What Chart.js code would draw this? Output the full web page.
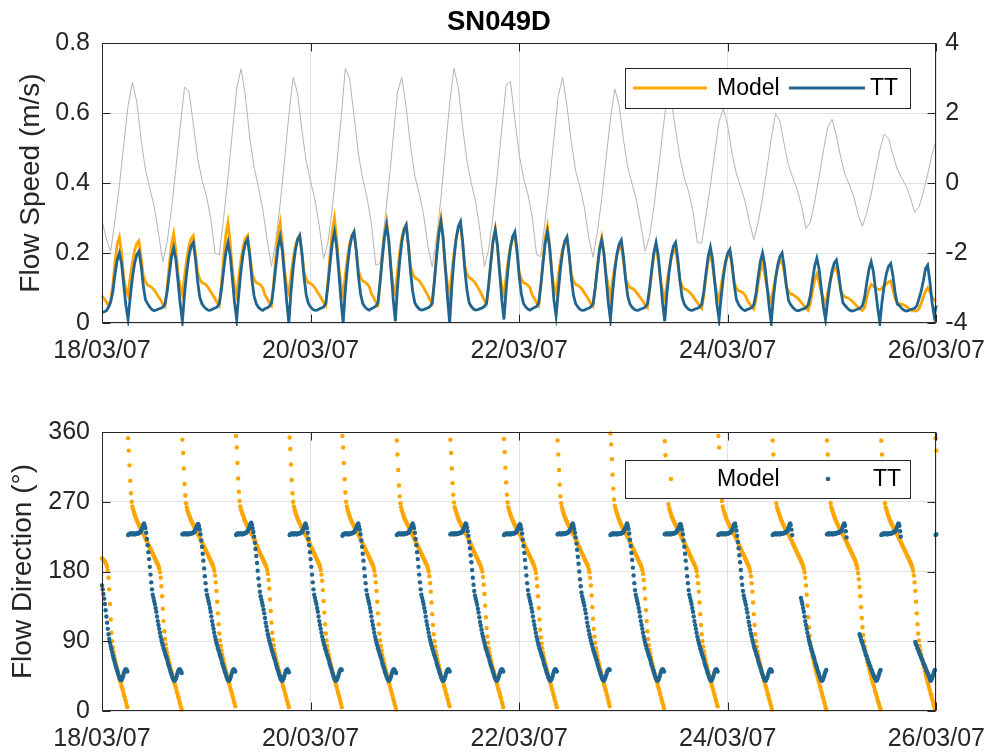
<!DOCTYPE html>
<html>
<head>
<meta charset="utf-8">
<title>SN049D</title>
<script src="https://cdn.jsdelivr.net/npm/chart.js@4.4.1/dist/chart.umd.min.js"></script>
<style>
  html, body { margin: 0; padding: 0; background: #ffffff; }
  #wrap { position: relative; width: 998px; height: 754px; }
  canvas { position: absolute; left: 0; }
  #speedCanvas { top: 0; }
  #dirCanvas { top: 375px; }
</style>
</head>
<body>
<div id="wrap">
  <canvas id="speedCanvas" width="998" height="375"></canvas>
  <canvas id="dirCanvas" width="998" height="379"></canvas>
</div>
<script>
// ---- time axis (hours after 18/03/07 00:00) ----
const DATE_LABELS = ['18/03/07', '20/03/07', '22/03/07', '24/03/07', '26/03/07'];
const DATE_TICK_STEP_H = 48;
const SPAN_H = 192;
const SPEED_STEP_H = 0.5;      // flow speed sampled every 30 min
const DIR_STEP_H = 1 / 6;      // flow direction sampled every 10 min
const ELEV_STEP_H = 1;         // water level sampled hourly

// ---- flow speed (m/s), TT measurements ----
const speedTT = [
  0.03,0.032,0.035,0.045,0.06,0.09,0.14,0.18,0.20,0.17,0.11,0.05,
  0.01,0.074,0.129,0.17,0.195,0.205,0.164,0.107,0.066,0.055,0.045,0.038,0.035,0.037,0.04,0.042,0.045,0.055,0.09,0.142,0.189,0.215,0.181,0.118,0.054,
  0.005,0.083,0.145,0.191,0.219,0.23,0.184,0.12,0.074,0.055,0.046,0.04,0.036,0.037,0.04,0.043,0.046,0.056,0.097,0.152,0.202,0.23,0.193,0.127,0.058,
  0.01,0.086,0.151,0.199,0.228,0.24,0.192,0.125,0.077,0.055,0.045,0.039,0.036,0.041,0.043,0.047,0.057,0.103,0.162,0.216,0.246,0.207,0.135,0.062,
  0,0.09,0.158,0.208,0.238,0.25,0.2,0.13,0.08,0.056,0.046,0.039,0.036,0.037,0.04,0.043,0.046,0.056,0.109,0.172,0.229,0.26,0.218,0.143,0.065,
  0,0.094,0.164,0.216,0.247,0.26,0.208,0.135,0.083,0.056,0.046,0.04,0.037,0.041,0.044,0.047,0.058,0.118,0.185,0.246,0.28,0.235,0.154,0.07,
  0.005,0.101,0.176,0.232,0.266,0.28,0.224,0.146,0.09,0.057,0.047,0.04,0.037,0.038,0.041,0.043,0.047,0.058,0.122,0.191,0.255,0.29,0.244,0.16,0.073,
  0,0.104,0.183,0.241,0.276,0.29,0.232,0.151,0.093,0.057,0.047,0.04,0.037,0.038,0.041,0.043,0.047,0.057,0.112,0.176,0.234,0.266,0.223,0.146,0.067,
  0.01,0.094,0.164,0.216,0.247,0.26,0.208,0.135,0.083,0.056,0.046,0.04,0.037,0.041,0.044,0.047,0.057,0.109,0.172,0.229,0.26,0.218,0.143,0.065,
  0.02,0.089,0.155,0.204,0.234,0.246,0.197,0.128,0.079,0.055,0.046,0.039,0.036,0.037,0.04,0.042,0.046,0.055,0.1,0.156,0.209,0.237,0.199,0.13,0.059,
  0.01,0.085,0.149,0.197,0.225,0.237,0.19,0.123,0.076,0.054,0.045,0.039,0.036,0.037,0.04,0.042,0.045,0.054,0.097,0.152,0.202,0.23,0.193,0.127,0.058,
  0.005,0.083,0.145,0.191,0.219,0.23,0.184,0.12,0.074,0.054,0.045,0.039,0.036,0.037,0.04,0.042,0.045,0.054,0.091,0.143,0.191,0.217,0.182,0.119,0.054,
  0.01,0.076,0.132,0.174,0.2,0.21,0.168,0.109,0.067,0.053,0.044,0.038,0.035,0.039,0.041,0.044,0.053,0.084,0.132,0.176,0.2,0.168,0.11,0.05,
  0,0.072,0.126,0.166,0.19,0.2,0.16,0.104,0.064,0.052,0.044,0.038,0.035,0.036,0.039,0.041,0.044,0.052,0.078,0.122,0.163,0.185,0.155,0.102,0.046,
  0.01,0.065,0.113,0.149,0.171,0.18,0.144,0.094,0.058,0.05,0.043,0.037,0.034,0.035,0.038,0.04,0.043,0.05,0.074,0.116,0.154,0.175,0.147,0.096,0.044,
  0,0.061,0.107,0.141,0.162,0.17,0.136,0.088,0.054,0.05,0.042,0.037,0.034,0.035,0.038,0.04,0.042,0.049,0.069,0.09,0.12,0.155,0.165,0.12,0.06,
  0.02,0.05
];

// ---- flow speed (m/s), model ----
const speedModel = [
  0.077,0.07,0.06,0.05,0.065,0.11,0.175,0.225,0.245,0.2,0.13,0.095,
  0.08,0.13,0.173,0.207,0.227,0.235,0.188,0.136,0.118,0.108,0.106,0.101,0.094,0.085,0.075,0.066,0.054,0.047,0.102,0.168,0.224,0.255,0.206,0.141,0.101,
  0.08,0.134,0.182,0.219,0.242,0.25,0.2,0.145,0.125,0.115,0.113,0.108,0.1,0.09,0.08,0.07,0.058,0.05,0.114,0.189,0.252,0.286,0.228,0.152,0.105,
  0.08,0.134,0.182,0.219,0.242,0.25,0.2,0.145,0.125,0.115,0.113,0.108,0.1,0.08,0.07,0.058,0.05,0.114,0.189,0.252,0.286,0.228,0.152,0.105,
  0.085,0.138,0.184,0.22,0.242,0.25,0.2,0.145,0.125,0.115,0.113,0.108,0.1,0.09,0.08,0.07,0.058,0.05,0.12,0.198,0.264,0.3,0.24,0.16,0.111,
  0.08,0.138,0.188,0.228,0.251,0.26,0.208,0.151,0.13,0.12,0.117,0.112,0.104,0.083,0.073,0.06,0.052,0.116,0.191,0.255,0.29,0.231,0.154,0.105,
  0.085,0.147,0.202,0.245,0.27,0.28,0.224,0.162,0.14,0.129,0.126,0.12,0.112,0.101,0.09,0.078,0.064,0.056,0.12,0.198,0.264,0.3,0.24,0.16,0.111,
  0.08,0.144,0.2,0.244,0.27,0.28,0.224,0.162,0.14,0.129,0.126,0.12,0.112,0.101,0.09,0.078,0.064,0.056,0.108,0.178,0.238,0.27,0.217,0.147,0.103,
  0.08,0.134,0.182,0.219,0.242,0.25,0.2,0.145,0.125,0.115,0.113,0.108,0.1,0.08,0.07,0.058,0.05,0.11,0.182,0.242,0.275,0.22,0.148,0.103,
  0.085,0.135,0.178,0.212,0.232,0.24,0.192,0.139,0.12,0.11,0.108,0.103,0.096,0.086,0.077,0.067,0.055,0.048,0.098,0.162,0.216,0.245,0.2,0.141,0.104,
  0.075,0.121,0.162,0.194,0.213,0.22,0.176,0.128,0.11,0.101,0.099,0.095,0.088,0.079,0.07,0.062,0.051,0.044,0.088,0.145,0.194,0.22,0.179,0.126,0.092,
  0.07,0.115,0.154,0.185,0.203,0.21,0.168,0.122,0.105,0.097,0.095,0.09,0.084,0.076,0.067,0.059,0.048,0.042,0.08,0.132,0.176,0.2,0.164,0.116,0.086,
  0.065,0.108,0.146,0.176,0.193,0.2,0.16,0.116,0.1,0.092,0.09,0.086,0.08,0.064,0.056,0.046,0.04,0.068,0.112,0.15,0.17,0.141,0.102,0.078,
  0.06,0.098,0.132,0.158,0.174,0.18,0.144,0.104,0.09,0.083,0.081,0.077,0.072,0.065,0.058,0.05,0.041,0.036,0.056,0.092,0.123,0.14,0.118,0.088,0.07,
  0.05,0.085,0.116,0.14,0.155,0.16,0.128,0.093,0.08,0.074,0.072,0.069,0.064,0.058,0.051,0.045,0.04,0.036,0.044,0.073,0.097,0.11,0.105,0.1,0.097,
  0.095,0.1,0.106,0.112,0.117,0.12,0.096,0.07,0.06,0.055,0.054,0.052,0.048,0.043,0.038,0.036,0.034,0.035,0.04,0.055,0.075,0.09,0.1,0.09,0.075,
  0.065,0.062
];

// ---- water level (m), right-hand axis ----
const waterLevel = [
  -1.06,-1.6,-1.95,-1.05,-0.07,1.09,2.21,2.88,2.32,1.24,
  0.37,-0.15,-0.66,-1.44,-2.25,-1.68,-0.75,0.41,1.61,2.74,
  2.62,1.70,0.72,0.09,-0.35,-0.99,-2.0,-2.05,-0.98,0.16,
  1.45,2.70,3.26,2.49,1.30,0.45,-0.12,-0.75,-1.63,-2.38,
  -1.64,-0.61,0.64,1.94,3.02,2.56,1.51,0.62,0.05,-0.47,
  -1.23,-2.17,-1.70,-0.71,0.50,1.82,3.28,2.97,1.93,0.84,
  0.12,-0.42,-1.17,-2.35,-2.3,-1.17,-0.03,1.28,2.6,3.02,
  2.16,1.06,0.19,-0.30,-0.90,-1.80,-2.4,-1.54,-0.43,0.94,
  2.26,3.28,2.72,1.58,0.62,-0.01,-0.55,-1.38,-2.38,-1.89,
  -0.90,0.27,1.55,2.8,2.9,1.82,0.81,0.15,-0.31,-0.97,
  -2.05,-2.1,-1.05,0.03,1.27,2.50,3.02,2.20,1.17,0.34,
  -0.12,-0.69,-1.55,-2.12,-1.39,-0.45,0.71,1.82,2.69,2.22,
  1.24,0.44,-0.03,-0.50,-1.20,-1.95,-1.53,-0.69,0.34,1.42,
  2.45,2.38,1.52,0.71,0.15,-0.25,-0.81,-1.7,-1.72,-0.91,
  -0.08,0.86,1.76,2.13,1.62,0.83,0.26,-0.12,-0.53,-1.12,
  -1.62,-1.12,-0.43,0.40,1.27,1.98,1.77,1.10,0.50,0.13,
  -0.20,-0.67,-1.3,-1.12,-0.54,0.16,0.92,1.59,1.82,1.35,
  0.73,0.23,-0.05,-0.39,-0.90,-1.24,-0.84,-0.32,0.33,0.95,
  1.40,1.27,0.81,0.40,0.15,-0.08,-0.40,-0.84,-0.69,-0.27,
  0.25,0.82,1.23
];

// ---- flow direction (degrees), model; one row per tidal cycle ----
const dirModel = [
  197,196,195,194,193,191,189,186,181,172,157,138,118,101,90,82,76,71,66,62,58,54,50,46,43,39,36,32,29,26,22,19,15,12,8,5,
  352,336,317,297,281,270,264,260,257,254,251,248,246,244,242,240,238,236,234,232,231,229,227,225,223,221,219,217,215,213,211,209,207,205,203,201,199,197,195,193,191,189,187,184,179,172,161,148,132,116,103,93,86,80,75,70,66,62,58,54,50,47,43,40,36,33,30,26,23,19,16,12,9,5,2,
  350,333,313,293,278,268,263,259,256,253,251,248,246,244,242,240,238,236,234,232,230,229,227,226,224,222,220,218,216,214,212,210,208,206,204,202,200,198,196,194,192,190,188,185,181,175,166,155,141,126,112,100,91,84,78,73,68,64,60,56,52,48,44,41,37,34,30,27,24,20,17,13,10,6,
  355,340,320,300,283,271,264,260,257,254,252,249,246,244,242,240,238,236,234,233,231,229,228,226,224,222,220,218,215,213,210,208,206,204,202,200,198,196,194,192,190,188,186,182,177,169,158,144,129,114,101,92,85,79,74,69,65,61,57,53,50,46,43,39,36,32,29,26,22,19,15,12,8,5,
  353,338,318,298,281,270,264,260,257,254,251,248,246,244,242,240,238,236,234,232,231,229,228,226,224,222,220,218,216,213,211,209,207,205,203,201,199,197,195,193,191,189,186,182,176,168,156,142,127,112,100,91,84,78,73,68,64,60,56,52,48,45,41,38,34,31,27,24,20,17,13,9,5,
  355,340,320,299,282,270,264,260,257,254,251,248,246,244,242,240,238,236,234,232,231,229,228,226,224,222,220,218,216,214,212,210,208,206,204,202,200,198,196,194,192,190,188,185,181,175,166,155,141,126,112,100,91,84,78,73,68,64,60,56,52,48,44,41,37,34,30,27,23,20,16,13,9,6,2,
  349,331,311,291,277,268,263,259,256,253,250,248,246,244,242,240,238,236,234,232,230,229,227,225,223,221,219,217,215,213,211,209,207,205,203,201,199,197,195,193,191,189,187,184,180,174,165,154,140,125,111,99,90,83,77,72,67,63,59,55,51,47,44,40,37,33,30,27,23,20,16,13,9,6,
  350,333,313,294,279,269,263,260,257,254,251,248,246,244,242,240,238,236,234,232,231,229,228,226,224,222,220,218,216,213,211,209,207,205,203,201,199,197,195,193,191,189,187,184,180,173,163,151,136,121,107,96,88,81,76,71,66,62,58,54,51,47,43,40,36,33,29,26,23,19,16,12,9,5,
  351,334,314,295,279,269,263,259,256,253,251,248,246,244,242,240,238,236,234,232,231,229,228,226,224,222,220,218,216,213,211,209,207,205,203,201,199,197,195,193,191,189,186,183,178,171,161,148,133,118,105,95,87,81,75,70,66,62,58,54,50,47,43,40,36,33,29,26,22,19,15,12,8,5,
  349,331,311,292,277,268,263,259,256,253,251,248,246,244,242,240,238,236,234,232,231,229,228,226,224,222,220,218,216,213,211,209,207,205,203,201,199,197,195,193,191,189,187,183,179,172,162,149,134,119,106,96,88,81,76,71,66,62,58,54,50,46,43,39,35,32,28,25,21,18,14,10,6,
  358,344,325,305,287,273,265,261,258,255,252,249,247,244,242,240,238,236,234,233,231,229,228,226,224,222,220,218,216,214,212,210,208,206,204,202,200,198,196,194,192,190,188,185,182,177,169,158,145,130,116,103,93,85,79,74,69,65,61,57,53,49,45,42,38,35,31,28,24,21,17,14,10,7,3,
  348,330,310,290,276,267,262,259,256,253,250,248,246,244,242,240,238,236,234,232,230,229,227,225,223,221,219,217,215,213,211,209,207,205,203,201,199,197,195,193,191,189,187,184,180,174,165,154,140,125,111,99,90,83,77,72,67,63,59,55,51,47,44,40,37,33,30,27,23,20,16,13,9,6,
  355,340,320,300,283,271,264,260,257,254,251,248,246,244,242,240,238,236,234,232,231,229,228,226,224,222,220,218,216,213,211,209,207,205,203,201,199,197,195,193,191,189,187,184,180,174,165,154,140,125,111,99,90,83,77,72,67,63,59,55,51,47,44,40,37,33,30,27,23,20,16,13,9,6,2,
  349,331,311,292,277,268,263,260,257,254,251,248,246,244,242,240,238,236,234,232,231,229,228,226,224,222,220,218,216,214,212,210,208,206,204,202,200,198,196,194,192,190,187,184,179,172,162,150,136,121,108,97,89,82,76,71,67,63,59,55,51,47,44,40,37,33,30,26,23,19,16,12,9,5,2,
  349,331,311,292,277,268,263,260,257,254,251,249,246,244,242,240,238,236,234,232,231,229,228,226,224,222,220,218,216,214,212,210,208,206,204,202,200,198,196,194,191,188,184,178,170,160,148,134,120,108,98,90,83,77,72,67,63,59,55,51,48,44,41,37,34,31,27,24,21,18,14,11,8,5,2,
  349,331,311,292,277,268,263,260,257,254,251,248,246,244,242,240,238,236,234,232,231,229,228,226,224,222,220,218,216,214,212,210,208,206,204,202,200,198,196,194,192,190,188,185,181,175,166,155,141,126,112,100,91,84,78,73,68,64,60,56,52,48,44,41,37,34,30,27,23,20,16,13,9,6,2,
  352,336
];

// ---- flow direction (degrees), TT measurements; null = no valid reading ----
const dirTT = [
  162,157,151,145,138,130,122,114,106,99,93,88,84,80,76,72,68,65,61,58,55,52,49,46,43,41,40,40,42,45,48,51,53,54,53,51,
  227,228,228,229,229,228,228,229,229,228,228,229,229,229,229,230,230,231,233,235,237,240,242,239,236,230,222,214,205,196,186,176,166,157,150,146,142,138,133,128,122,116,111,106,101,96,92,88,85,81,78,75,72,69,66,62,59,56,53,50,47,44,42,40,39,40,42,45,48,51,53,54,53,51,49,
  228,228,229,229,228,228,229,229,228,228,229,229,229,229,230,230,231,232,234,236,238,241,241,238,234,228,220,212,203,194,184,174,165,156,150,146,142,138,133,128,122,116,111,106,101,96,92,88,85,81,78,75,72,69,66,62,59,56,53,50,47,44,42,40,39,40,42,45,48,51,53,54,53,51,
  227,228,229,229,228,228,229,229,228,228,229,229,229,230,230,231,232,234,236,239,241,243,240,236,231,225,217,209,200,191,181,171,162,154,148,144,140,136,131,126,120,114,109,104,99,95,91,87,84,80,77,74,71,68,65,61,58,55,52,49,46,43,41,40,39,41,43,46,49,52,53,54,52,50,
  227,228,228,229,229,228,228,229,229,228,228,229,229,229,229,230,230,231,233,235,237,240,242,239,236,230,222,214,205,196,186,176,166,157,150,146,142,138,133,128,122,116,111,106,101,96,92,88,85,81,78,75,72,69,66,62,59,56,53,50,47,44,42,40,39,40,42,45,48,51,53,54,53,
  226,228,228,229,229,228,229,229,228,228,229,229,229,229,230,230,231,232,234,236,238,241,242,238,234,228,220,212,203,194,184,174,165,156,150,146,142,138,133,128,122,116,111,106,101,96,92,88,85,81,78,75,72,69,66,62,59,56,53,50,47,44,42,40,39,40,42,45,48,51,53,54,53,51,49,
  227,228,228,229,229,228,228,229,229,228,228,229,229,229,229,230,230,231,233,235,237,240,242,239,236,230,222,214,205,196,186,176,166,157,150,146,142,138,133,128,122,116,111,106,101,96,92,88,85,81,78,75,72,69,66,62,59,56,53,50,47,44,42,40,39,40,42,45,48,51,53,54,53,51,
  228,228,229,229,228,228,229,229,228,229,229,229,229,230,230,230,231,232,234,237,239,242,241,237,232,226,218,210,201,192,182,172,163,155,149,145,141,137,132,127,121,115,110,105,100,96,92,88,84,81,78,75,72,69,65,62,59,56,53,50,47,44,42,40,39,40,42,45,48,51,53,54,53,51,
  227,228,228,229,229,228,228,229,229,228,228,229,229,229,229,230,230,231,233,235,237,239,241,239,235,229,221,213,204,195,185,175,165,156,150,146,142,138,133,128,122,116,111,106,101,96,92,88,85,81,78,75,72,69,66,62,59,56,53,50,47,44,42,40,39,40,42,45,48,51,53,54,53,51,
  228,228,229,229,228,228,229,229,228,229,229,229,229,230,230,231,232,233,235,237,240,242,239,235,230,224,216,208,199,190,180,170,161,153,148,144,140,136,131,126,120,114,109,104,99,95,91,87,84,80,77,74,71,68,65,61,58,55,52,49,46,43,41,40,39,41,43,46,49,52,53,54,53,
  227,228,228,229,229,228,228,229,229,228,228,229,229,229,229,229,230,230,231,233,235,237,240,242,239,235,229,221,213,204,195,185,175,165,156,150,146,142,138,133,128,122,116,111,106,101,96,92,88,85,81,78,75,72,69,66,62,59,56,53,50,47,44,42,40,39,40,42,45,48,51,53,54,53,51,
  228,228,229,229,228,228,229,229,228,228,229,229,229,229,230,230,231,232,234,236,238,241,241,238,234,228,220,212,203,194,184,174,165,156,150,146,142,138,133,128,122,116,111,106,101,96,92,88,85,81,78,75,72,69,66,62,59,56,53,50,47,44,42,40,39,40,42,45,48,51,53,54,53,51,
  227,228,228,229,229,228,228,229,229,228,228,229,229,229,229,230,230,231,232,234,236,239,241,242,238,233,226,218,210,201,192,182,172,163,155,149,145,141,137,132,127,121,115,110,105,100,96,92,88,84,81,78,75,72,69,65,62,59,56,53,50,47,44,42,40,39,40,42,45,48,51,53,54,53,51,
  227,228,228,229,229,228,228,229,229,228,228,229,229,229,229,229,230,230,231,231,232,234,237,240,242,240,234,227,null,null,null,null,null,null,null,null,null,null,null,146,142,138,133,128,122,116,111,106,101,96,92,88,85,81,78,75,72,69,66,62,59,56,53,50,47,44,42,40,39,40,42,45,48,51,53,
  228,228,229,229,228,228,229,229,228,228,229,229,229,229,230,230,230,231,231,232,233,235,238,241,242,239,232,224,null,null,null,null,null,null,null,null,null,null,null,null,null,null,null,null,null,99,96,93,90,87,84,81,78,75,72,70,67,64,62,59,57,54,52,49,47,45,43,41,39,40,42,45,48,51,53,
  227,228,228,229,229,228,229,229,228,228,229,229,229,229,229,230,230,231,231,232,233,235,238,241,242,239,232,225,null,null,null,null,null,null,null,null,null,null,null,null,null,null,null,null,null,null,null,89,86,84,81,79,76,74,72,69,67,65,62,60,58,56,53,51,49,47,45,42,39,40,42,45,48,51,53,
  227,228
];

// ---- styling ----
const FONT = "'Liberation Sans', Arial, Helvetica, sans-serif";
const INK = '#262626';
const GRID = '#e2e2e2';
const ORANGE = '#ffa500';
const TEAL = '#1f6590';
const LEVEL_GRAY = '#b4b4b4';
const TICK_LEN = 8;

function toPoints(values, stepH) {
  return values.map((v, i) => ({ x: i * stepH, y: v }));
}

function timeAxis(height) {
  return {
    type: 'linear', min: 0, max: SPAN_H,
    grid: { color: GRID, lineWidth: 1, drawTicks: false },
    border: { display: false },
    ticks: {
      stepSize: DATE_TICK_STEP_H, autoSkip: false, maxRotation: 0, padding: 13,
      color: INK, font: { family: FONT, size: 25 },
      callback: (v) => DATE_LABELS[Math.round(v / DATE_TICK_STEP_H)]
    },
    afterFit: (s) => { s.height = height; }
  };
}

// Axes box with inward tick marks on every side
const axesFrame = {
  id: 'axesFrame',
  afterDatasetsDraw(chart) {
    const { ctx, chartArea: a, scales } = chart;
    const L = Math.round(a.left) + 0.5, R = Math.round(a.right) - 0.5;
    const T = Math.round(a.top) + 0.5, B = Math.round(a.bottom) - 0.5;
    ctx.save();
    ctx.strokeStyle = INK;
    ctx.lineWidth = 1;
    ctx.beginPath();
    scales.x.ticks.forEach(t => {
      const px = Math.round(scales.x.getPixelForValue(t.value)) + 0.5;
      ctx.moveTo(px, B); ctx.lineTo(px, B - TICK_LEN);
      ctx.moveTo(px, T); ctx.lineTo(px, T + TICK_LEN);
    });
    scales.y.ticks.forEach(t => {
      const py = Math.round(scales.y.getPixelForValue(t.value)) + 0.5;
      ctx.moveTo(L, py); ctx.lineTo(L + TICK_LEN, py);
    });
    const rightScale = scales.y2 || scales.y;
    rightScale.ticks.forEach(t => {
      const py = Math.round(rightScale.getPixelForValue(t.value)) + 0.5;
      ctx.moveTo(R, py); ctx.lineTo(R - TICK_LEN, py);
    });
    ctx.stroke();
    ctx.strokeRect(L, T, R - L, B - T);
    ctx.restore();
  }
};

// Legend drawn inside the plot area, top-right corner
function insetLegend(opts) {
  return {
    id: 'insetLegend',
    afterDraw(chart) {
      const { ctx, chartArea: a } = chart;
      const right = Math.round(a.right - opts.insetRight);
      const top = Math.round(a.top + opts.insetTop);
      const left = right - opts.width;
      const midY = top + opts.height / 2;
      ctx.save();
      ctx.fillStyle = '#ffffff';
      ctx.fillRect(left, top, opts.width, opts.height);
      ctx.strokeStyle = INK;
      ctx.lineWidth = 1;
      ctx.strokeRect(left + 0.5, top + 0.5, opts.width, opts.height);
      ctx.font = '23px ' + FONT;
      ctx.textBaseline = 'middle';
      ctx.textAlign = 'left';
      opts.items.forEach(it => {
        if (opts.kind === 'line') {
          ctx.strokeStyle = it.color;
          ctx.lineWidth = 2.8;
          ctx.beginPath();
          ctx.moveTo(left + it.from, midY);
          ctx.lineTo(left + it.to, midY);
          ctx.stroke();
        } else {
          ctx.fillStyle = it.color;
          ctx.beginPath();
          ctx.arc(left + it.at, midY, 2.3, 0, Math.PI * 2);
          ctx.fill();
        }
        ctx.fillStyle = '#000000';
        ctx.fillText(it.label, left + it.textX, midY + 1);
      });
      ctx.restore();
    }
  };
}

// ---- upper panel: flow speed + water level ----
new Chart(document.getElementById('speedCanvas'), {
  type: 'line',
  data: {
    datasets: [
      { label: 'TT', data: toPoints(speedTT, SPEED_STEP_H), borderColor: TEAL, borderWidth: 2.8,
        pointRadius: 0, tension: 0, yAxisID: 'y', order: 0, clip: 3 },
      { label: 'Model', data: toPoints(speedModel, SPEED_STEP_H), borderColor: ORANGE, borderWidth: 2.8,
        pointRadius: 0, tension: 0, yAxisID: 'y', order: 1, clip: 3 },
      { label: 'Water level', data: toPoints(waterLevel, ELEV_STEP_H), borderColor: LEVEL_GRAY, borderWidth: 1,
        pointRadius: 0, tension: 0, yAxisID: 'y2', order: 2 }
    ]
  },
  options: {
    responsive: false, animation: false, devicePixelRatio: 1,
    layout: { padding: 0 },
    plugins: {
      legend: { display: false },
      tooltip: { enabled: false },
      title: {
        display: true, text: 'SN049D', color: '#000000',
        font: { family: FONT, size: 27.5, weight: 'bold', lineHeight: 1.2 },
        padding: { top: 6, bottom: 4 }
      }
    },
    scales: {
      x: timeAxis(52),
      y: {
        position: 'left', min: 0, max: 0.8,
        grid: { color: GRID, lineWidth: 1, drawTicks: false },
        border: { display: false },
        ticks: { stepSize: 0.2, padding: 12, color: INK, font: { family: FONT, size: 25 },
                 callback: (v) => String(+v.toFixed(1)) },
        title: { display: true, text: 'Flow Speed (m/s)', color: INK,
                 font: { family: FONT, size: 28 }, padding: { top: 14, bottom: 0 } },
        afterFit: (s) => { s.width = 102; }
      },
      y2: {
        position: 'right', min: -4, max: 4,
        grid: { display: false, drawTicks: false },
        border: { display: false },
        ticks: { stepSize: 2, padding: 9, color: INK, font: { family: FONT, size: 25 } },
        afterFit: (s) => { s.width = 54; }
      }
    }
  },
  plugins: [axesFrame, insetLegend({
    kind: 'line', insetRight: 26, insetTop: 25, width: 285, height: 40,
    items: [
      { label: 'Model', color: ORANGE, from: 8, to: 82, textX: 92 },
      { label: 'TT', color: TEAL, from: 164, to: 240, textX: 245 }
    ]
  })]
});

// ---- lower panel: flow direction ----
new Chart(document.getElementById('dirCanvas'), {
  type: 'scatter',
  data: {
    datasets: [
      { label: 'TT', data: toPoints(dirTT, DIR_STEP_H), backgroundColor: TEAL, pointRadius: 2.2,
        pointBorderWidth: 0, showLine: false, order: 0, clip: 5 },
      { label: 'Model', data: toPoints(dirModel, DIR_STEP_H), backgroundColor: ORANGE, pointRadius: 2.2,
        pointBorderWidth: 0, showLine: false, order: 1, clip: 5 }
    ]
  },
  options: {
    responsive: false, animation: false, devicePixelRatio: 1,
    layout: { padding: { top: 57, right: 54, left: 0, bottom: 0 } },
    plugins: { legend: { display: false }, tooltip: { enabled: false }, title: { display: false } },
    scales: {
      x: timeAxis(43),
      y: {
        position: 'left', min: 0, max: 360,
        grid: { color: GRID, lineWidth: 1, drawTicks: false },
        border: { display: false },
        ticks: { stepSize: 90, padding: 12, color: INK, font: { family: FONT, size: 25 } },
        title: { display: true, text: 'Flow Direction (°)', color: INK,
                 font: { family: FONT, size: 28 }, padding: { top: 6, bottom: 0 } },
        afterFit: (s) => { s.width = 102; }
      }
    }
  },
  plugins: [axesFrame, insetLegend({
    kind: 'dot', insetRight: 26, insetTop: 28, width: 285, height: 38,
    items: [
      { label: 'Model', color: ORANGE, at: 46, textX: 92 },
      { label: 'TT', color: TEAL, at: 203, textX: 248 }
    ]
  })]
});
</script>
</body>
</html>
